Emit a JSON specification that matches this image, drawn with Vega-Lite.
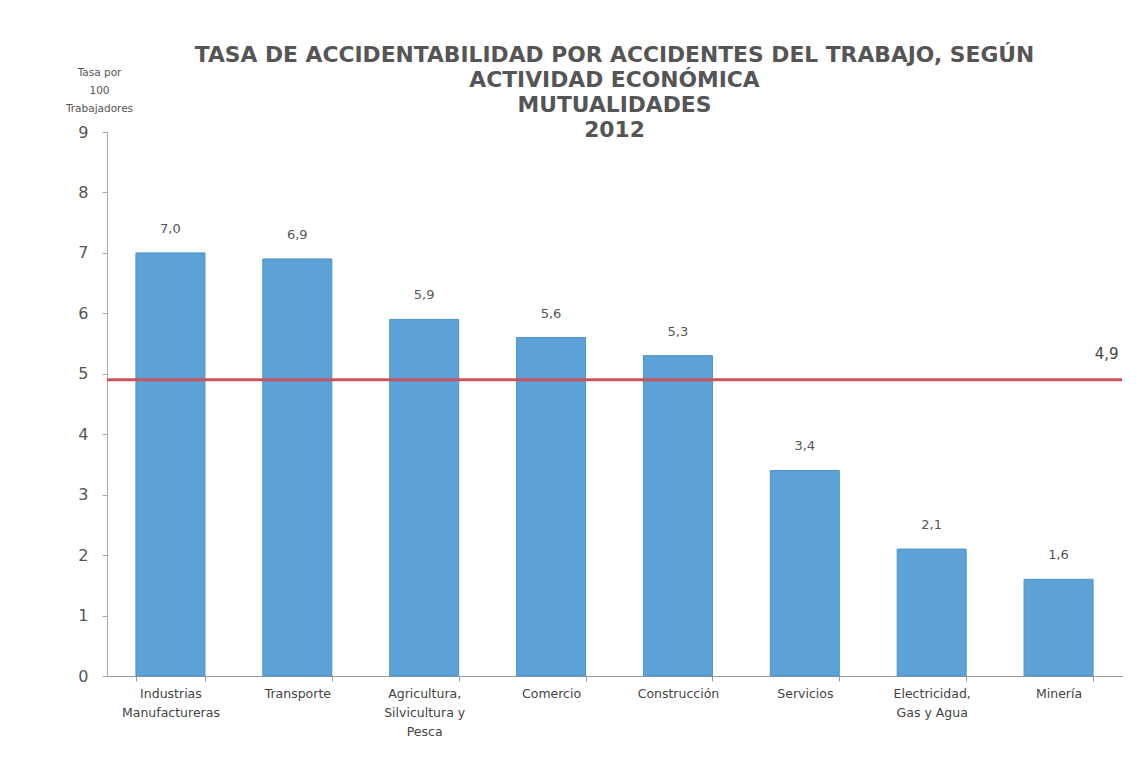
{
  "$schema": "https://vega.github.io/schema/vega-lite/v6.json",
  "autosize": {"type": "none"},
  "padding": {"left": 107, "top": 132, "right": 20, "bottom": 93},
  "width": 1015,
  "height": 544,
  "background": "white",
  "title": {
    "text": ["TASA DE ACCIDENTABILIDAD POR ACCIDENTES DEL TRABAJO, SEGÚN", "ACTIVIDAD ECONÓMICA", "MUTUALIDADES", "2012"],
    "anchor": "middle",
    "font": "DejaVu Sans",
    "fontSize": 21.8,
    "fontWeight": "bold",
    "color": "#555555",
    "lineHeight": 25,
    "baseline": "bottom",
    "offset": -97
  },
  "config": {
    "view": {"stroke": null},
    "locale": {"number": {"decimal": ",", "thousands": ".", "grouping": [3], "currency": ["$", ""]}}
  },
  "data": {
    "values": [
      {"actividad": "Industrias\nManufactureras", "tasa": 7.0},
      {"actividad": "Transporte", "tasa": 6.9},
      {"actividad": "Agricultura,\nSilvicultura y\nPesca", "tasa": 5.9},
      {"actividad": "Comercio", "tasa": 5.6},
      {"actividad": "Construcción", "tasa": 5.3},
      {"actividad": "Servicios", "tasa": 3.4},
      {"actividad": "Electricidad,\nGas y Agua", "tasa": 2.1},
      {"actividad": "Minería", "tasa": 1.6}
    ]
  },
  "encoding": {
    "x": {
      "field": "actividad",
      "type": "nominal",
      "sort": null,
      "scale": {"paddingInner": 0.456, "paddingOuter": 0.228},
      "axis": {
        "title": null,
        "labelAngle": 0,
        "labelExpr": "split(datum.label, '\\n')",
        "labelFont": "DejaVu Sans",
        "labelFontSize": 12.5,
        "labelColor": "#444444",
        "labelLineHeight": 19,
        "labelPadding": 6,
        "labelBaseline": "top",
        "tickBand": "extent",
        "tickSize": 5,
        "tickColor": "#999999",
        "domainColor": "#999999",
        "labelLimit": 0
      }
    },
    "y": {
      "field": "tasa",
      "type": "quantitative",
      "scale": {"domain": [0, 9], "nice": false},
      "axis": {
        "title": ["Tasa por", "100", "Trabajadores"],
        "titleAngle": 0,
        "titleAlign": "center",
        "titleBaseline": "bottom",
        "titleX": -8,
        "titleY": -55,
        "titleFont": "DejaVu Sans",
        "titleFontSize": 10.5,
        "titleFontWeight": "normal",
        "titleColor": "#555555",
        "titleLineHeight": 18,
        "values": [0, 1, 2, 3, 4, 5, 6, 7, 8, 9],
        "format": "d",
        "grid": false,
        "labelFont": "DejaVu Sans",
        "labelFontSize": 16,
        "labelColor": "#555555",
        "labelPadding": 14,
        "tickSize": 5,
        "tickColor": "#aaaaaa",
        "domainColor": "#aaaaaa"
      }
    }
  },
  "layer": [
    {
      "mark": {"type": "bar", "color": "#5da2d6", "stroke": "#4f93c8", "strokeWidth": 1}
    },
    {
      "mark": {"type": "text", "baseline": "bottom", "dy": -17, "font": "DejaVu Sans", "fontSize": 13, "color": "#555555"},
      "encoding": {"text": {"field": "tasa", "type": "quantitative", "format": ".1f"}}
    },
    {
      "data": {"values": [{"promedio": 4.9}]},
      "mark": {"type": "rule", "color": "#c9545e", "strokeWidth": 3},
      "encoding": {"y": {"field": "promedio", "type": "quantitative"}, "x": null}
    },
    {
      "data": {"values": [{"actividad": "Minería", "promedio": 4.9}]},
      "mark": {"type": "text", "baseline": "middle", "align": "center", "dx": 48, "dy": -26, "font": "DejaVu Sans", "fontSize": 15, "color": "#444444"},
      "encoding": {
        "x": {"field": "actividad", "type": "nominal"},
        "y": {"field": "promedio", "type": "quantitative"},
        "text": {"field": "promedio", "type": "quantitative", "format": ".1f"}
      }
    }
  ]
}
